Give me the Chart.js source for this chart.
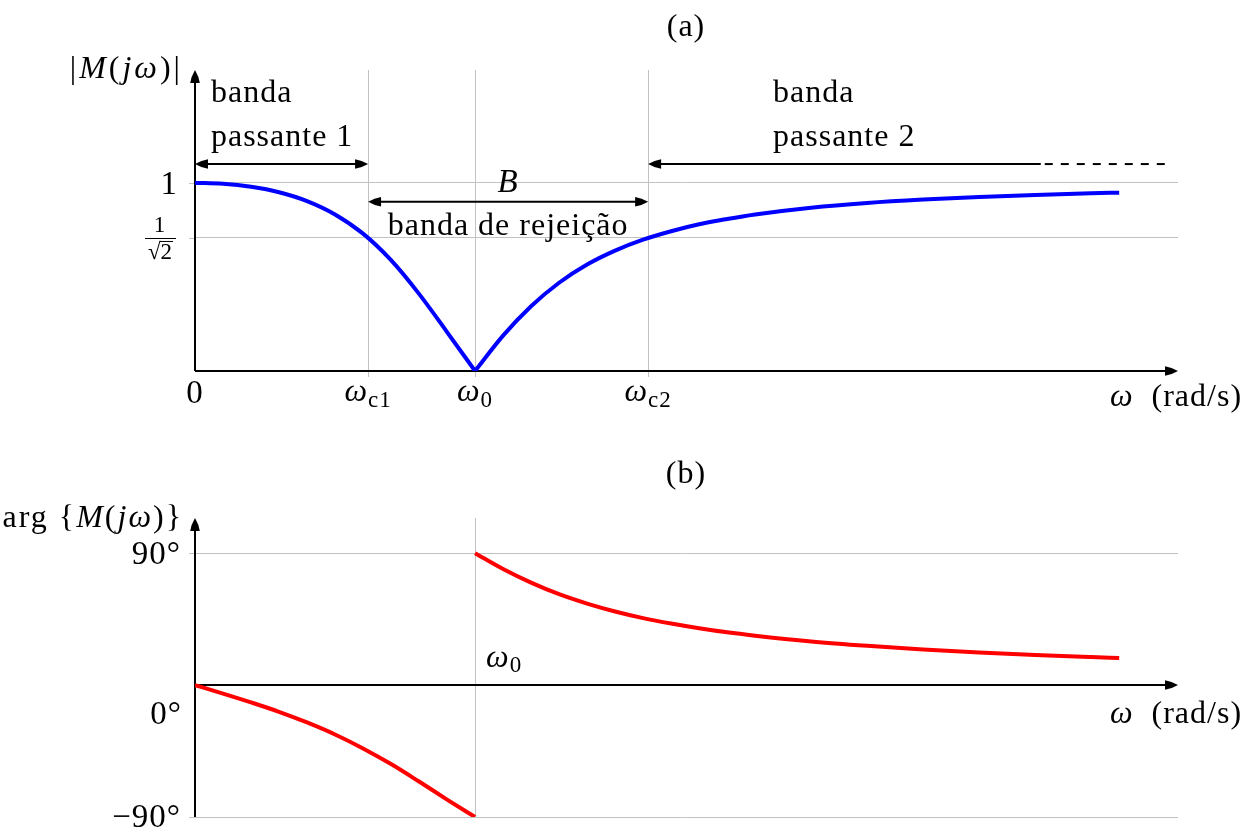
<!DOCTYPE html>
<html lang="pt">
<head>
<meta charset="utf-8">
<title>Filtro rejeita-faixa</title>
<script src="https://cdn.jsdelivr.net/npm/chart.js@4.4.1/dist/chart.umd.min.js"></script>
<style>
  html,body{margin:0;padding:0;background:#fff}
  #fig{position:relative;width:1250px;height:831px}
  #fig canvas{position:absolute;left:0}
  #c-mag{top:0}
  #c-fase{top:440px}
</style>
</head>
<body>
<div id="fig">
  <canvas id="c-mag" width="1250" height="440"></canvas>
  <canvas id="c-fase" width="1250" height="391"></canvas>
</div>
<script>
// ── Frequências características (rad/s, normalizadas por ω0) ──
const wc1 = 0.618;
const w0  = 1;
const wc2 = 1.618;
const wMax = 3.51;

// ── Curvas: ramo abaixo e acima de ω0 ──
const wLow  = [0, 0.1, 0.2, 0.3, 0.4, 0.5, 0.6, 0.7, 0.8, 0.9, 1.0];
const wHigh = [1.0, 1.1, 1.2, 1.3, 1.4, 1.5, 1.6, 1.7, 1.8, 1.9, 2.0, 2.2, 2.4, 2.6, 2.8, 3.0, 3.2, 3.3];

const magLow  = [1, 0.995, 0.979, 0.950, 0.903, 0.832, 0.730, 0.589, 0.410, 0.207, 0];
const magHigh = [0, 0.188, 0.344, 0.469, 0.566, 0.640, 0.698, 0.743, 0.780, 0.808, 0.832,
                 0.868, 0.893, 0.911, 0.925, 0.936, 0.945, 0.948];

const phaseLow  = [0, -5.8, -11.8, -18.2, -25.5, -33.7, -43.2, -53.9, -65.8, -78.1, -90];
const phaseHigh = [90, 79.2, 69.9, 62.0, 55.6, 50.2, 45.7, 42.0, 38.8, 36.0, 33.7,
                   29.8, 26.8, 24.3, 22.3, 20.6, 19.1, 18.4];

// ── Marcas dos eixos ──
const magXMarks   = [wc1, w0, wc2];
const magYMarks   = [Math.SQRT1_2, 1];
const phaseXMarks = [w0];
const phaseYMarks = [-90, 90];

// ── Setas das faixas (ω, |M|) ──
const arrowPass = 1.1;     // altura das setas "banda passante"
const arrowStop = 0.9;     // altura da seta B
const pass2Solid = 3.02;   // fim do trecho cheio da seta 2
const pass2Dash  = 3.49;   // fim do trecho tracejado

const SERIF = '"Liberation Serif", "Times New Roman", serif';
const GRID  = '#c2c2c2';

function fnt(size, italic){ return (italic ? 'italic ' : '') + size + 'px ' + SERIF; }

// escreve pedaços [texto, tamanho, itálico, deslocamento vertical] em sequência
function mathText(ctx, parts, x, y, align, sp){
  sp = sp === undefined ? 1 : sp;
  ctx.textAlign = 'left';
  ctx.textBaseline = 'alphabetic';
  ctx.letterSpacing = sp + 'px';
  let w = 0;
  const ws = parts.map(p=>{ ctx.font = fnt(p[1], p[2]); const m = ctx.measureText(p[0]).width; w += m; return m; });
  let cx = align==='center' ? x - w/2 : align==='right' ? x - w : x;
  parts.forEach((p,i)=>{
    ctx.font = fnt(p[1], p[2]);
    ctx.fillText(p[0], cx, y + (p[3]||0));
    cx += ws[i];
  });
  ctx.letterSpacing = '0px';
}

function seg(ctx, x1, y1, x2, y2){
  ctx.beginPath(); ctx.moveTo(x1, y1); ctx.lineTo(x2, y2); ctx.stroke();
}

// ponta de seta estilo latex, com a ponta em (x,y)
function arrowHead(ctx, x, y, ang){
  const L = 13, W = 4.8;
  ctx.save();
  ctx.translate(x, y);
  ctx.rotate(ang);
  ctx.beginPath();
  ctx.moveTo(0, 0);
  ctx.quadraticCurveTo(-L*0.5, -W*0.8, -L, -W);
  ctx.lineTo(-L, W);
  ctx.quadraticCurveTo(-L*0.5, W*0.8, 0, 0);
  ctx.closePath();
  ctx.fill();
  ctx.restore();
}

function axes(ctx, a, y0){
  ctx.strokeStyle = '#000';
  ctx.fillStyle = '#000';
  ctx.lineWidth = 2;
  seg(ctx, a.left, y0, a.right - 8, y0);
  arrowHead(ctx, a.right, y0, 0);
  seg(ctx, a.left, a.bottom, a.left, a.top + 8);
  arrowHead(ctx, a.left, a.top, -Math.PI/2);
}

function gridAxis(min, max, marks){
  return {
    type: 'linear', min, max,
    afterBuildTicks: s => { s.ticks = marks.map(v=>({ value:v })); },
    ticks: { display:false },
    grid:  { color:GRID, lineWidth:1, drawTicks:false },
    border:{ display:false }
  };
}

function pts(xs, ys){ return xs.map((x,i)=>({ x, y:ys[i] })); }

function curve(data, color){
  return {
    data, borderColor:color, borderWidth:4, pointRadius:0,
    cubicInterpolationMode:'monotone', fill:false
  };
}

const baseOpts = {
  responsive:false,
  animation:false,
  events:[],
  plugins:{ legend:{ display:false }, tooltip:{ enabled:false } }
};

// ══════════════════════════════════════════
// (a) MÓDULO
// ══════════════════════════════════════════
const magDecor = {
  id:'magDecor',
  beforeDatasetsDraw(chart){
    const { ctx, chartArea:a, scales:{ x, y } } = chart;
    ctx.save();
    ctx.strokeStyle = GRID; ctx.lineWidth = 1;
    magXMarks.forEach(v=>{ const px = Math.round(x.getPixelForValue(v)) + 0.5; seg(ctx, px, a.bottom, px, a.bottom + 6); });
    magYMarks.forEach(v=>{ const py = Math.round(y.getPixelForValue(v)) + 0.5; seg(ctx, a.left - 6, py, a.left, py); });
    axes(ctx, a, a.bottom);
    ctx.restore();
  },
  afterDatasetsDraw(chart){
    const { ctx, chartArea:a, scales:{ x, y } } = chart;
    const X = v => x.getPixelForValue(v), Y = v => y.getPixelForValue(v);
    ctx.save();
    ctx.fillStyle = '#000';
    ctx.strokeStyle = '#000';

    mathText(ctx, [['(a)',32]], 686, 36, 'center');
    mathText(ctx, [['|',32],['M',32,true],['(',32],['j',32,true],['ω',32,true],[')',32],['|',32]], 183, 78, 'right', 3);

    // rótulos do eixo vertical
    const y1 = Y(1), yr = Y(Math.SQRT1_2);
    mathText(ctx, [['1',33]], 178, y1 + 11, 'right');
    mathText(ctx, [['1',23]], 160, yr - 6, 'center');
    ctx.lineWidth = 1;
    seg(ctx, 145, Math.round(yr) + 0.5, 176, Math.round(yr) + 0.5);
    ctx.font = fnt(23);
    ctx.letterSpacing = '0px';
    const wr = ctx.measureText('√').width, w2 = ctx.measureText('2').width;
    const rx = 160 - (wr + w2)/2;
    mathText(ctx, [['√',23],['2',23]], 160, yr + 21, 'center', 0);
    seg(ctx, rx + wr - 1, yr + 3.5, rx + wr + w2 + 1, yr + 3.5);

    // rótulos do eixo horizontal
    const yb = a.bottom + 30;
    mathText(ctx, [['0',33]], X(0), yb + 2, 'center');
    mathText(ctx, [['ω',32,true],['c1',23,false,6]], X(wc1), yb, 'center');
    mathText(ctx, [['ω',32,true],['0',23,false,6]], X(w0), yb, 'center');
    mathText(ctx, [['ω',32,true],['c2',23,false,6]], X(wc2), yb, 'center');
    mathText(ctx, [['ω',32,true],['  (rad/s)',32]], 1176, a.bottom + 35, 'center');

    // banda passante 1
    ctx.lineWidth = 2;
    const ya = Y(arrowPass);
    seg(ctx, X(0) + 8, ya, X(wc1) - 8, ya);
    arrowHead(ctx, X(0), ya, Math.PI);
    arrowHead(ctx, X(wc1), ya, 0);
    mathText(ctx, [['banda',32]], X(0.057), Y(1.431), 'left');
    mathText(ctx, [['passante 1',32]], X(0.057), Y(1.197), 'left');

    // banda de rejeição
    const ys = Y(arrowStop), wm = (wc1 + wc2)/2;
    seg(ctx, X(wc1) + 8, ys, X(wc2) - 8, ys);
    arrowHead(ctx, X(wc1), ys, Math.PI);
    arrowHead(ctx, X(wc2), ys, 0);
    mathText(ctx, [['B',33,true]], X(wm), Y(0.952), 'center');
    mathText(ctx, [['banda de rejeição',32]], X(wm), Y(0.723), 'center');

    // banda passante 2 (segue além do gráfico)
    seg(ctx, X(wc2) + 8, ya, X(pass2Solid), ya);
    arrowHead(ctx, X(wc2), ya, Math.PI);
    ctx.setLineDash([8, 8]);
    seg(ctx, X(pass2Solid) + 4, ya, X(pass2Dash), ya);
    ctx.setLineDash([]);
    mathText(ctx, [['banda',32]], X(2.064), Y(1.431), 'left');
    mathText(ctx, [['passante 2',32]], X(2.064), Y(1.197), 'left');
    ctx.restore();
  }
};

new Chart(document.getElementById('c-mag'), {
  type:'line',
  data:{ datasets:[ curve(pts(wLow, magLow), '#0000ff'), curve(pts(wHigh, magHigh), '#0000ff') ] },
  options:{
    ...baseOpts,
    layout:{ padding:{ left:195, right:72, top:70, bottom:69 } },
    scales:{ x:gridAxis(0, wMax, magXMarks), y:gridAxis(0, 1.6, magYMarks) }
  },
  plugins:[magDecor]
});

// ══════════════════════════════════════════
// (b) FASE
// ══════════════════════════════════════════
const phaseDecor = {
  id:'phaseDecor',
  beforeDatasetsDraw(chart){
    const { ctx, chartArea:a, scales:{ x, y } } = chart;
    const y0 = Math.round(y.getPixelForValue(0));
    ctx.save();
    ctx.strokeStyle = GRID; ctx.lineWidth = 1;
    phaseXMarks.forEach(v=>{ const px = Math.round(x.getPixelForValue(v)) + 0.5; seg(ctx, px, y0, px, y0 + 6); });
    phaseYMarks.forEach(v=>{ const py = Math.round(y.getPixelForValue(v)) + 0.5; seg(ctx, a.left - 6, py, a.left, py); });
    axes(ctx, a, y0);
    ctx.restore();
  },
  afterDatasetsDraw(chart){
    const { ctx, chartArea:a, scales:{ x, y } } = chart;
    const X = v => x.getPixelForValue(v), Y = v => y.getPixelForValue(v);
    ctx.save();
    ctx.fillStyle = '#000';
    mathText(ctx, [['(b)',32]], 686, 43, 'center');
    mathText(ctx, [['arg ',32],['{',32],['M',32,true],['(',32],['j',32,true],['ω',32,true],[')',32],['}',32]], 183, 87, 'right', 2);

    mathText(ctx, [['90°',33]], 181, Y(90) + 11, 'right');
    mathText(ctx, [['0°',33]], 182, Y(0) + 39, 'right');
    mathText(ctx, [['−90°',33]], 181, Y(-90) + 10, 'right');

    mathText(ctx, [['ω',32,true],['0',23,false,5]], X(w0) + 11, Y(0) - 18, 'left');
    mathText(ctx, [['ω',32,true],['  (rad/s)',32]], 1176, Y(0) + 38, 'center');
    ctx.restore();
  }
};

new Chart(document.getElementById('c-fase'), {
  type:'line',
  data:{ datasets:[ curve(pts(wLow, phaseLow), '#ff0000'), curve(pts(wHigh, phaseHigh), '#ff0000') ] },
  options:{
    ...baseOpts,
    layout:{ padding:{ left:195, right:72, top:78, bottom:14 } },
    scales:{ x:gridAxis(0, wMax, phaseXMarks), y:gridAxis(-90, 114, phaseYMarks) }
  },
  plugins:[phaseDecor]
});
</script>
</body>
</html>
